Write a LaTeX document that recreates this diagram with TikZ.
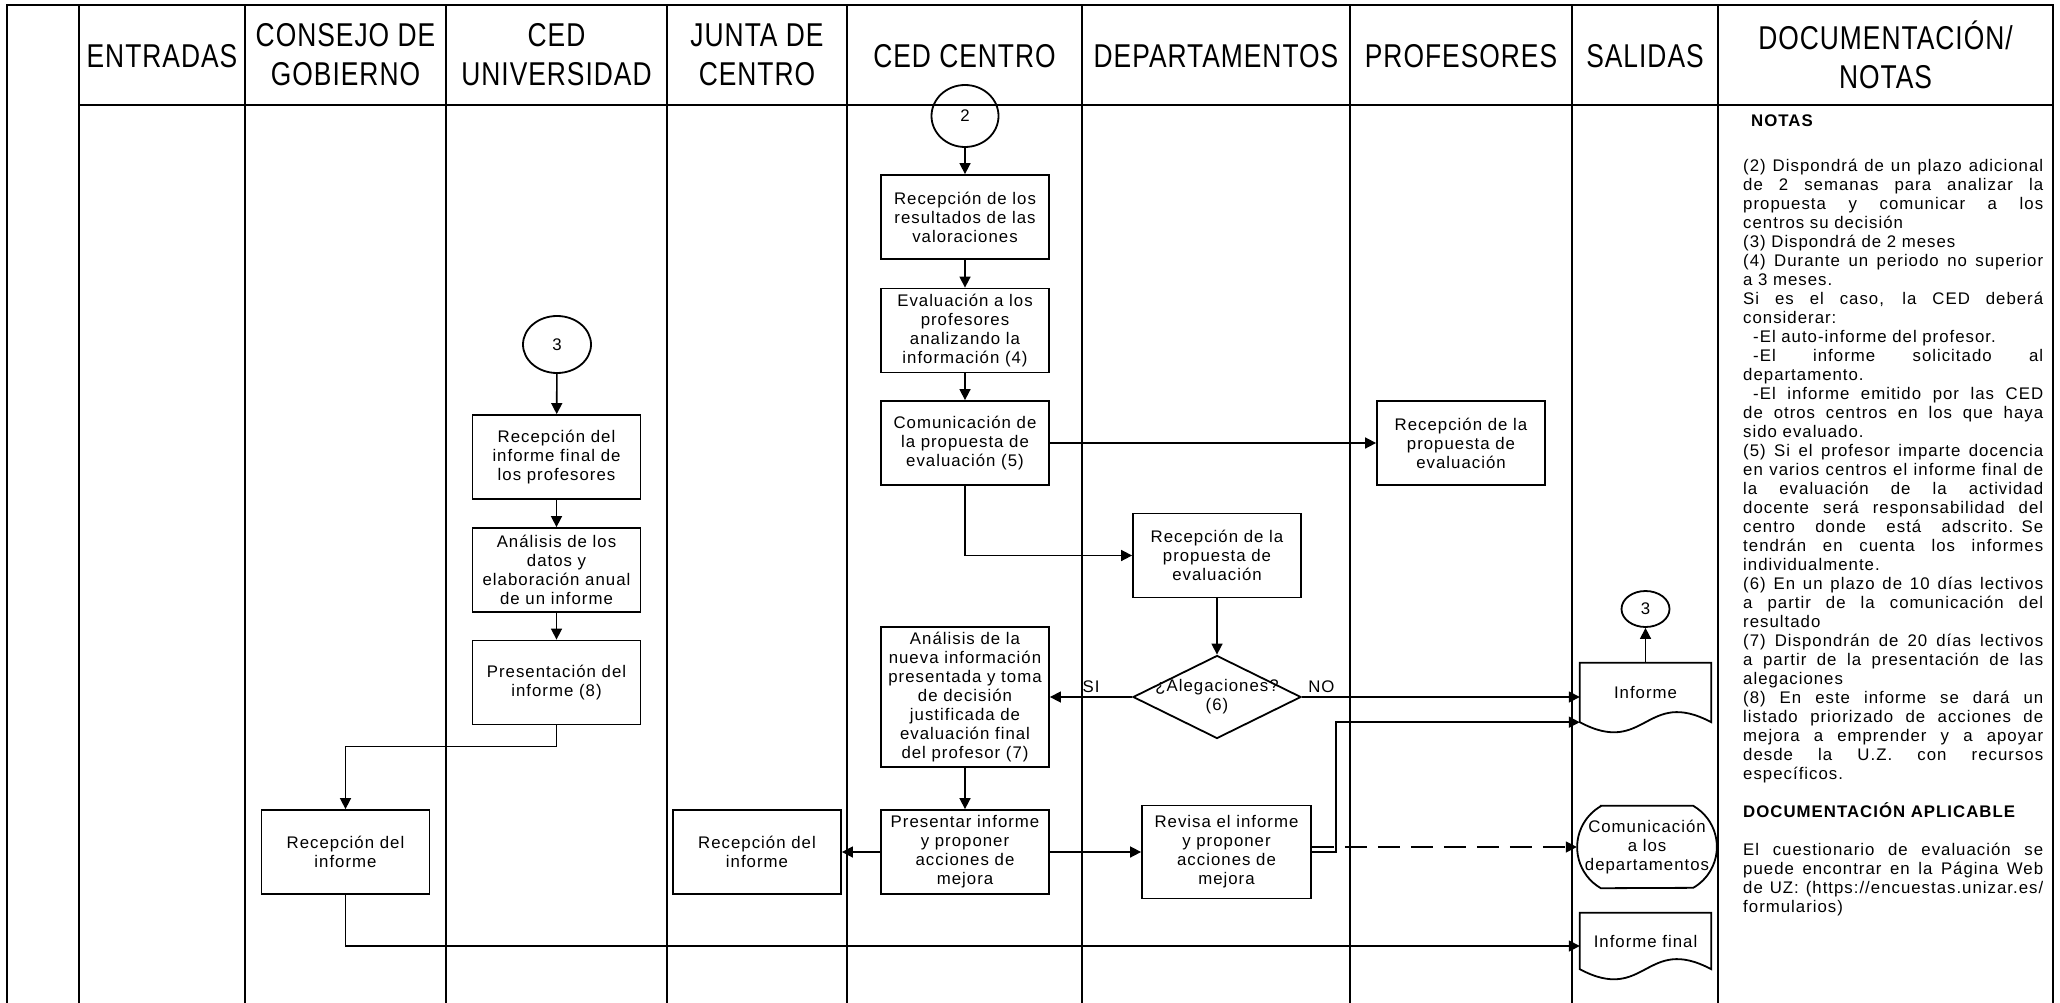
\documentclass[tikz,border=0pt]{standalone}
\usepackage{fontspec}
\setmainfont{Liberation Sans}
\newfontfamily\lsfont[LetterSpace=6]{Liberation Sans}
\newfontfamily\hdrfont[LetterSpace=3,FakeStretch=0.8]{Liberation Sans}
\usetikzlibrary{arrows.meta,shapes.geometric,calc}
\newcommand{\notej}[1]{\makebox[300pt][s]{\spaceskip=\fontdimen2\font plus 1fil minus 2pt\relax #1}\par}
\newcommand{\notel}[1]{\makebox[300pt][l]{#1}\par}
\begin{document}
\begin{tikzpicture}[x=1pt,y=-1pt,
  every node/.style={font=\lsfont\fontsize{16.8}{19}\selectfont},
  grid/.style={line width=2.6pt},
  stepbox/.style={draw,line width=1.8pt,minimum width=168pt,minimum height=84pt,inner sep=1pt,align=center},
  conn/.style={ellipse,draw,line width=1.8pt,inner sep=0pt},
  arr/.style={line width=1.6pt,-{Triangle[length=11pt,width=11pt]}},
  hdr/.style={align=center,font=\hdrfont\fontsize{33}{39}\selectfont},
  docnode/.style={minimum width=131pt,inner sep=0pt},
  shapeline/.style={line width=1.8pt},
]
\useasboundingbox (0,0) rectangle (2060,1003);
\fill[white] (0,0) rectangle (2060,1003);

% grid
\draw[grid] (7,1003) -- (7,5) -- (2053,5) -- (2053,1003);
\foreach \x in {79,245,446,667,847,1082,1350,1572,1718} \draw[grid] (\x,5) -- (\x,1003);
\draw[grid] (79,105) -- (2053,105);

% headers
\node[hdr] (hEnt) at (162,56) {ENTRADAS};
\node[hdr] (hCon) at (345.5,55) {CONSEJO DE\\GOBIERNO};
\node[hdr] (hUni) at (556.5,55) {CED\\UNIVERSIDAD};
\node[hdr] (hJun) at (757,55) {JUNTA DE\\CENTRO};
\node[hdr] (hCen) at (964.5,56) {CED CENTRO};
\node[hdr] (hDep) at (1216,56) {DEPARTAMENTOS};
\node[hdr] (hPro) at (1461,56) {PROFESORES};
\node[hdr] (hSal) at (1645,56) {SALIDAS};
\node[hdr] (hDoc) at (1885.5,55) {DOCUMENTACIÓN/\\NOTAS};

% CED CENTRO
\node[conn,minimum width=67pt,minimum height=62pt] (c2) at (965,116) {2};
\node[stepbox] (r1) at (965,217) {Recepción de los\\resultados de las\\valoraciones};
\node[stepbox] (r2) at (965,330.5) {Evaluación a los\\profesores\\analizando la\\información (4)};
\node[stepbox] (r3) at (965,443) {Comunicación de\\la propuesta de\\evaluación (5)};
\node[stepbox,minimum height=140pt] (an7) at (965,697) {Análisis de la\\nueva información\\presentada y toma\\de decisión\\justificada de\\evaluación final\\del profesor (7)};
\node[stepbox] (pres) at (965,852) {Presentar informe\\y proponer\\acciones de\\mejora};

% PROFESORES
\node[stepbox] (rprof) at (1461,443) {Recepción de la\\propuesta de\\evaluación};

% DEPARTAMENTOS
\node[stepbox] (rdep) at (1217,555.5) {Recepción de la\\propuesta de\\evaluación};
\node[diamond,draw,line width=1.8pt,minimum width=168pt,minimum height=83pt,inner sep=0pt,
  label={[align=center]center:{¿Alegaciones?\\(6)}}] (alg) at (1217,697) {};
\node[stepbox,minimum width=169pt,minimum height=93pt] (rev) at (1226.5,852) {Revisa el informe\\y proponer\\acciones de\\mejora};

% JUNTA / CONSEJO
\node[stepbox] (rjun) at (757,852) {Recepción del\\informe};
\node[stepbox] (rcg) at (345.5,852) {Recepción del\\informe};

% CED UNIVERSIDAD
\node[conn,minimum width=68pt,minimum height=57pt] (c3u) at (557,344.5) {3};
\node[stepbox] (u1) at (556.5,457) {Recepción del\\informe final de\\los profesores};
\node[stepbox] (u2) at (556.5,570) {Análisis de los\\datos y\\elaboración anual\\de un informe};
\node[stepbox] (u3) at (556.5,682.5) {Presentación del\\informe (8)};

% SALIDAS
\node[docnode,minimum height=59pt] (inf) at (1645.5,692.5) {Informe};
\node[conn,minimum width=48pt,minimum height=36pt] (c3s) at (1645.5,609) {3};
\node[minimum width=140pt,minimum height=82pt,inner sep=0pt,align=center] (com) at (1647,847) {Comunicación\\a los\\departamentos};
\node[docnode,minimum height=56pt] (inff) at (1645.5,941) {Informe final};

\foreach \d in {inf,inff}
  \draw[shapeline] (\d.south west) -- (\d.north west) -- (\d.north east) -- (\d.south east)
    .. controls ($(\d.south)+(0,-35)$) and ($(\d.south)+(0,35)$) .. (\d.south west) -- cycle;
\draw[shapeline] ($(com.north west)+(24,0)$) -- ($(com.north east)+(-24,0)$)
  arc[start angle=60,end angle=-60,radius=47.35pt] -- ($(com.south west)+(24,0)$)
  arc[start angle=240,end angle=120,radius=47.35pt] -- cycle;

% connectors
\draw[arr] (c2) -- (r1);
\draw[arr] (r1) -- (r2);
\draw[arr] (r2) -- (r3);
\draw[arr] (r3) -- (rprof);
\draw[arr] (r3.south) |- (rdep.west);
\draw[arr] (rdep) -- (alg);
\draw[arr] (alg.west) -- node[above] (si) {SI} (an7.east);
\draw[arr] (alg.east) -- node[above,pos=0.07] (no) {NO} (alg.east -| inf.west);
\draw[arr] (an7) -- (pres);
\draw[arr] (pres) -- (rjun);
\draw[arr] (pres) -- (rev);
\draw[arr] (rev.east) -- ++(24,0) |- (inf.south west);
\coordinate (dstart) at ($(rev.east)+(0,-5)$);
\draw[arr,dash pattern=on 22pt off 11pt] (dstart) -- (dstart -| com.west);
\draw[arr] (inf.north) -- (c3s);
\draw[arr] (c3u) -- (u1);
\draw[arr] (u1) -- (u2);
\draw[arr] (u2) -- (u3);
\draw[arr] (u3.south) -- ++(0,21) -| (rcg.north);
\draw[arr] (rcg.south) |- ($(inff.west)+(0,5)$);

% notes
\node[anchor=base west,inner sep=0pt,font=\lsfont\bfseries\fontsize{16.8}{19}\selectfont] (notas) at (1751,127) {NOTAS};
\node[anchor=north west,inner sep=0pt,text width=300pt] (notes) at (1743,158) {\parindent=0pt\lineskiplimit=-20pt
\notej{\strut(2) Dispondrá de un plazo adicional}
\notej{de 2 semanas para analizar la}
\notej{propuesta y comunicar a los}
\notel{centros su decisión}
\notel{(3) Dispondrá de 2 meses}
\notej{(4) Durante un periodo no superior}
\notel{a 3 meses.}
\notej{Si es el caso, la CED deberá}
\notel{considerar:}
\notel{\hspace*{10pt}-El auto-informe del profesor.}
\notej{\hspace*{10pt}-El informe solicitado al}
\notel{departamento.}
\notej{\hspace*{10pt}-El informe emitido por las CED}
\notej{de otros centros en los que haya}
\notel{sido evaluado.}
\notej{(5) Si el profesor imparte docencia}
\notej{en varios centros el informe final de}
\notej{la evaluación de la actividad}
\notej{docente será responsabilidad del}
\notej{centro donde está adscrito. Se}
\notej{tendrán en cuenta los informes}
\notel{individualmente.}
\notej{(6) En un plazo de 10 días lectivos}
\notej{a partir de la comunicación del}
\notel{resultado}
\notej{(7) Dispondrán de 20 días lectivos}
\notej{a partir de la presentación de las}
\notel{alegaciones}
\notej{(8) En este informe se dará un}
\notej{listado priorizado de acciones de}
\notej{mejora a emprender y a apoyar}
\notej{desde la U.Z. con recursos}
\notel{específicos.}
\notel{}
\notel{\bfseries DOCUMENTACIÓN APLICABLE}
\notel{}
\notej{El cuestionario de evaluación se}
\notej{puede encontrar en la Página Web}
\notej{de UZ: (https://encuestas.unizar.es/}
\notel{formularios)}
};
\end{tikzpicture}
\end{document}
